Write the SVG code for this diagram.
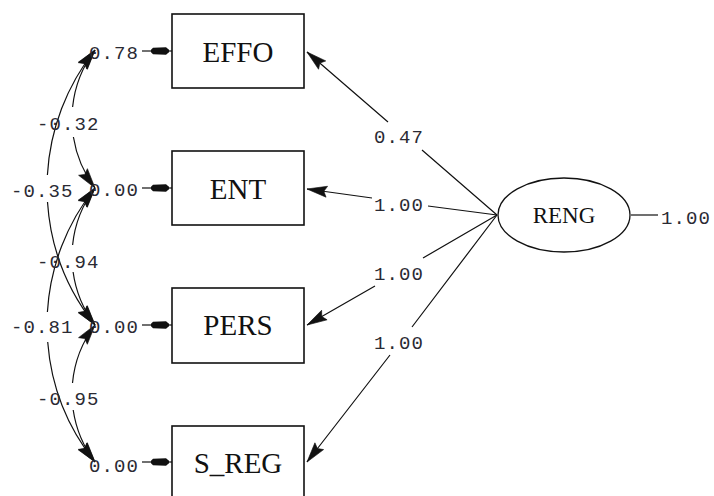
<svg xmlns="http://www.w3.org/2000/svg" width="714" height="496" viewBox="0 0 714 496">
  <style>
    .box { fill: #fff; stroke: #111; stroke-width: 1.6; }
    .lat { fill: #fff; stroke: #111; stroke-width: 1.3; }
    .name { font-family: "Liberation Serif", "Times New Roman", serif; fill: #111; }
    .num { font-family: "Liberation Mono", "Courier New", monospace; font-size: 19px; letter-spacing: 1.1px; fill: #2a2a33; }
    .conn { fill: none; stroke: #111; stroke-width: 1.2; }
  </style>
  <defs>
    <marker id="ah" markerUnits="userSpaceOnUse" markerWidth="26" markerHeight="14" viewBox="-23 -7 25 14" refX="0" refY="0" orient="auto-start-reverse">
      <path d="M0,0 L-20,-5.5 L-17,0 L-20,5.5 Z" fill="#111" stroke="#111" stroke-width="0.6" stroke-linejoin="round"/>
    </marker>
    <marker id="eh" markerUnits="userSpaceOnUse" markerWidth="26" markerHeight="10" viewBox="-23 -5 25 10" refX="0" refY="0" orient="auto">
      <path d="M-3,-1.2 L-6,-3.8 L-19,-3.2 L-21,-1.2 L-21,1.2 L-19,3.2 L-6,3.8 L-3,1.2 Z" fill="#111"/>
    </marker>
  </defs>

  <rect width="714" height="496" fill="#fff"/>

  <!-- observed variables -->
  <g id="EFFO">
    <rect class="box" x="172" y="14" width="132" height="74"/>
    <text class="name" x="238" y="62" font-size="29" text-anchor="middle">EFFO</text>
  </g>
  <g id="ENT">
    <rect class="box" x="172" y="151" width="132" height="74"/>
    <text class="name" x="238" y="199" font-size="29" text-anchor="middle">ENT</text>
  </g>
  <g id="PERS">
    <rect class="box" x="172" y="288" width="132" height="75"/>
    <text class="name" x="238" y="335" font-size="29" text-anchor="middle">PERS</text>
  </g>
  <g id="S_REG">
    <rect class="box" x="172" y="426" width="132" height="80"/>
    <text class="name" x="238" y="473" font-size="29" text-anchor="middle">S_REG</text>
  </g>

  <!-- latent variable -->
  <g id="RENG">
    <ellipse class="lat" cx="564" cy="215" rx="66" ry="37"/>
    <text class="name" x="564" y="223" font-size="23" text-anchor="middle">RENG</text>
  </g>

  <!-- connectors -->
  <g id="connectors">
    <!-- loadings -->
    <path class="conn" d="M497,215 L422,150 M388,122 L307,52" marker-end="url(#ah)"/>
    <path class="conn" d="M497,215 L428,206 M372,198 L307,189" marker-end="url(#ah)"/>
    <path class="conn" d="M497,215 L423,258 M375,286 L307,325" marker-end="url(#ah)"/>
    <path class="conn" d="M497,215 L412,327 M390,355 L307,462" marker-end="url(#ah)"/>
    <path class="conn" d="M631,215 L658,215"/>

    <!-- error terms -->
    <path class="conn" d="M142,51 L172,51" marker-end="url(#eh)"/>
    <path class="conn" d="M142,188 L172,188" marker-end="url(#eh)"/>
    <path class="conn" d="M142,325 L172,325" marker-end="url(#eh)"/>
    <path class="conn" d="M142,462 L172,462" marker-end="url(#eh)"/>

    <!-- error covariances -->
    <path class="conn" d="M95,50 A115,115 0 0 0 72.6,107 M73.4,137 A115,115 0 0 0 95,188" marker-start="url(#ah)" marker-end="url(#ah)"/>
    <path class="conn" d="M95,50 A221,221 0 0 0 47.4,175 M47.5,202 A221,221 0 0 0 95,325" marker-start="url(#ah)" marker-end="url(#ah)"/>
    <path class="conn" d="M95,188 A113.5,113.5 0 0 0 72.6,245 M73.1,272 A113.5,113.5 0 0 0 95,325" marker-start="url(#ah)" marker-end="url(#ah)"/>
    <path class="conn" d="M95,188 A219.5,219.5 0 0 0 47.4,312 M47.7,342 A219.5,219.5 0 0 0 95,462" marker-start="url(#ah)" marker-end="url(#ah)"/>
    <path class="conn" d="M95,325 A113.5,113.5 0 0 0 72.5,383 M73.2,410 A113.5,113.5 0 0 0 95,462" marker-start="url(#ah)" marker-end="url(#ah)"/>
  </g>

  <!-- estimates -->
  <g id="labels">
    <text class="num" x="374" y="143">0.47</text>
    <text class="num" x="374" y="211">1.00</text>
    <text class="num" x="374" y="280">1.00</text>
    <text class="num" x="374" y="349">1.00</text>
    <text class="num" x="661" y="224">1.00</text>

    <text class="num" x="89" y="59">0.78</text>
    <text class="num" x="89" y="196">0.00</text>
    <text class="num" x="89" y="333">0.00</text>
    <text class="num" x="89" y="472">0.00</text>

    <text class="num" x="37" y="130">-0.32</text>
    <text class="num" x="11" y="197">-0.35</text>
    <text class="num" x="37" y="268">-0.94</text>
    <text class="num" x="11" y="333">-0.81</text>
    <text class="num" x="37" y="405">-0.95</text>
  </g>
</svg>
